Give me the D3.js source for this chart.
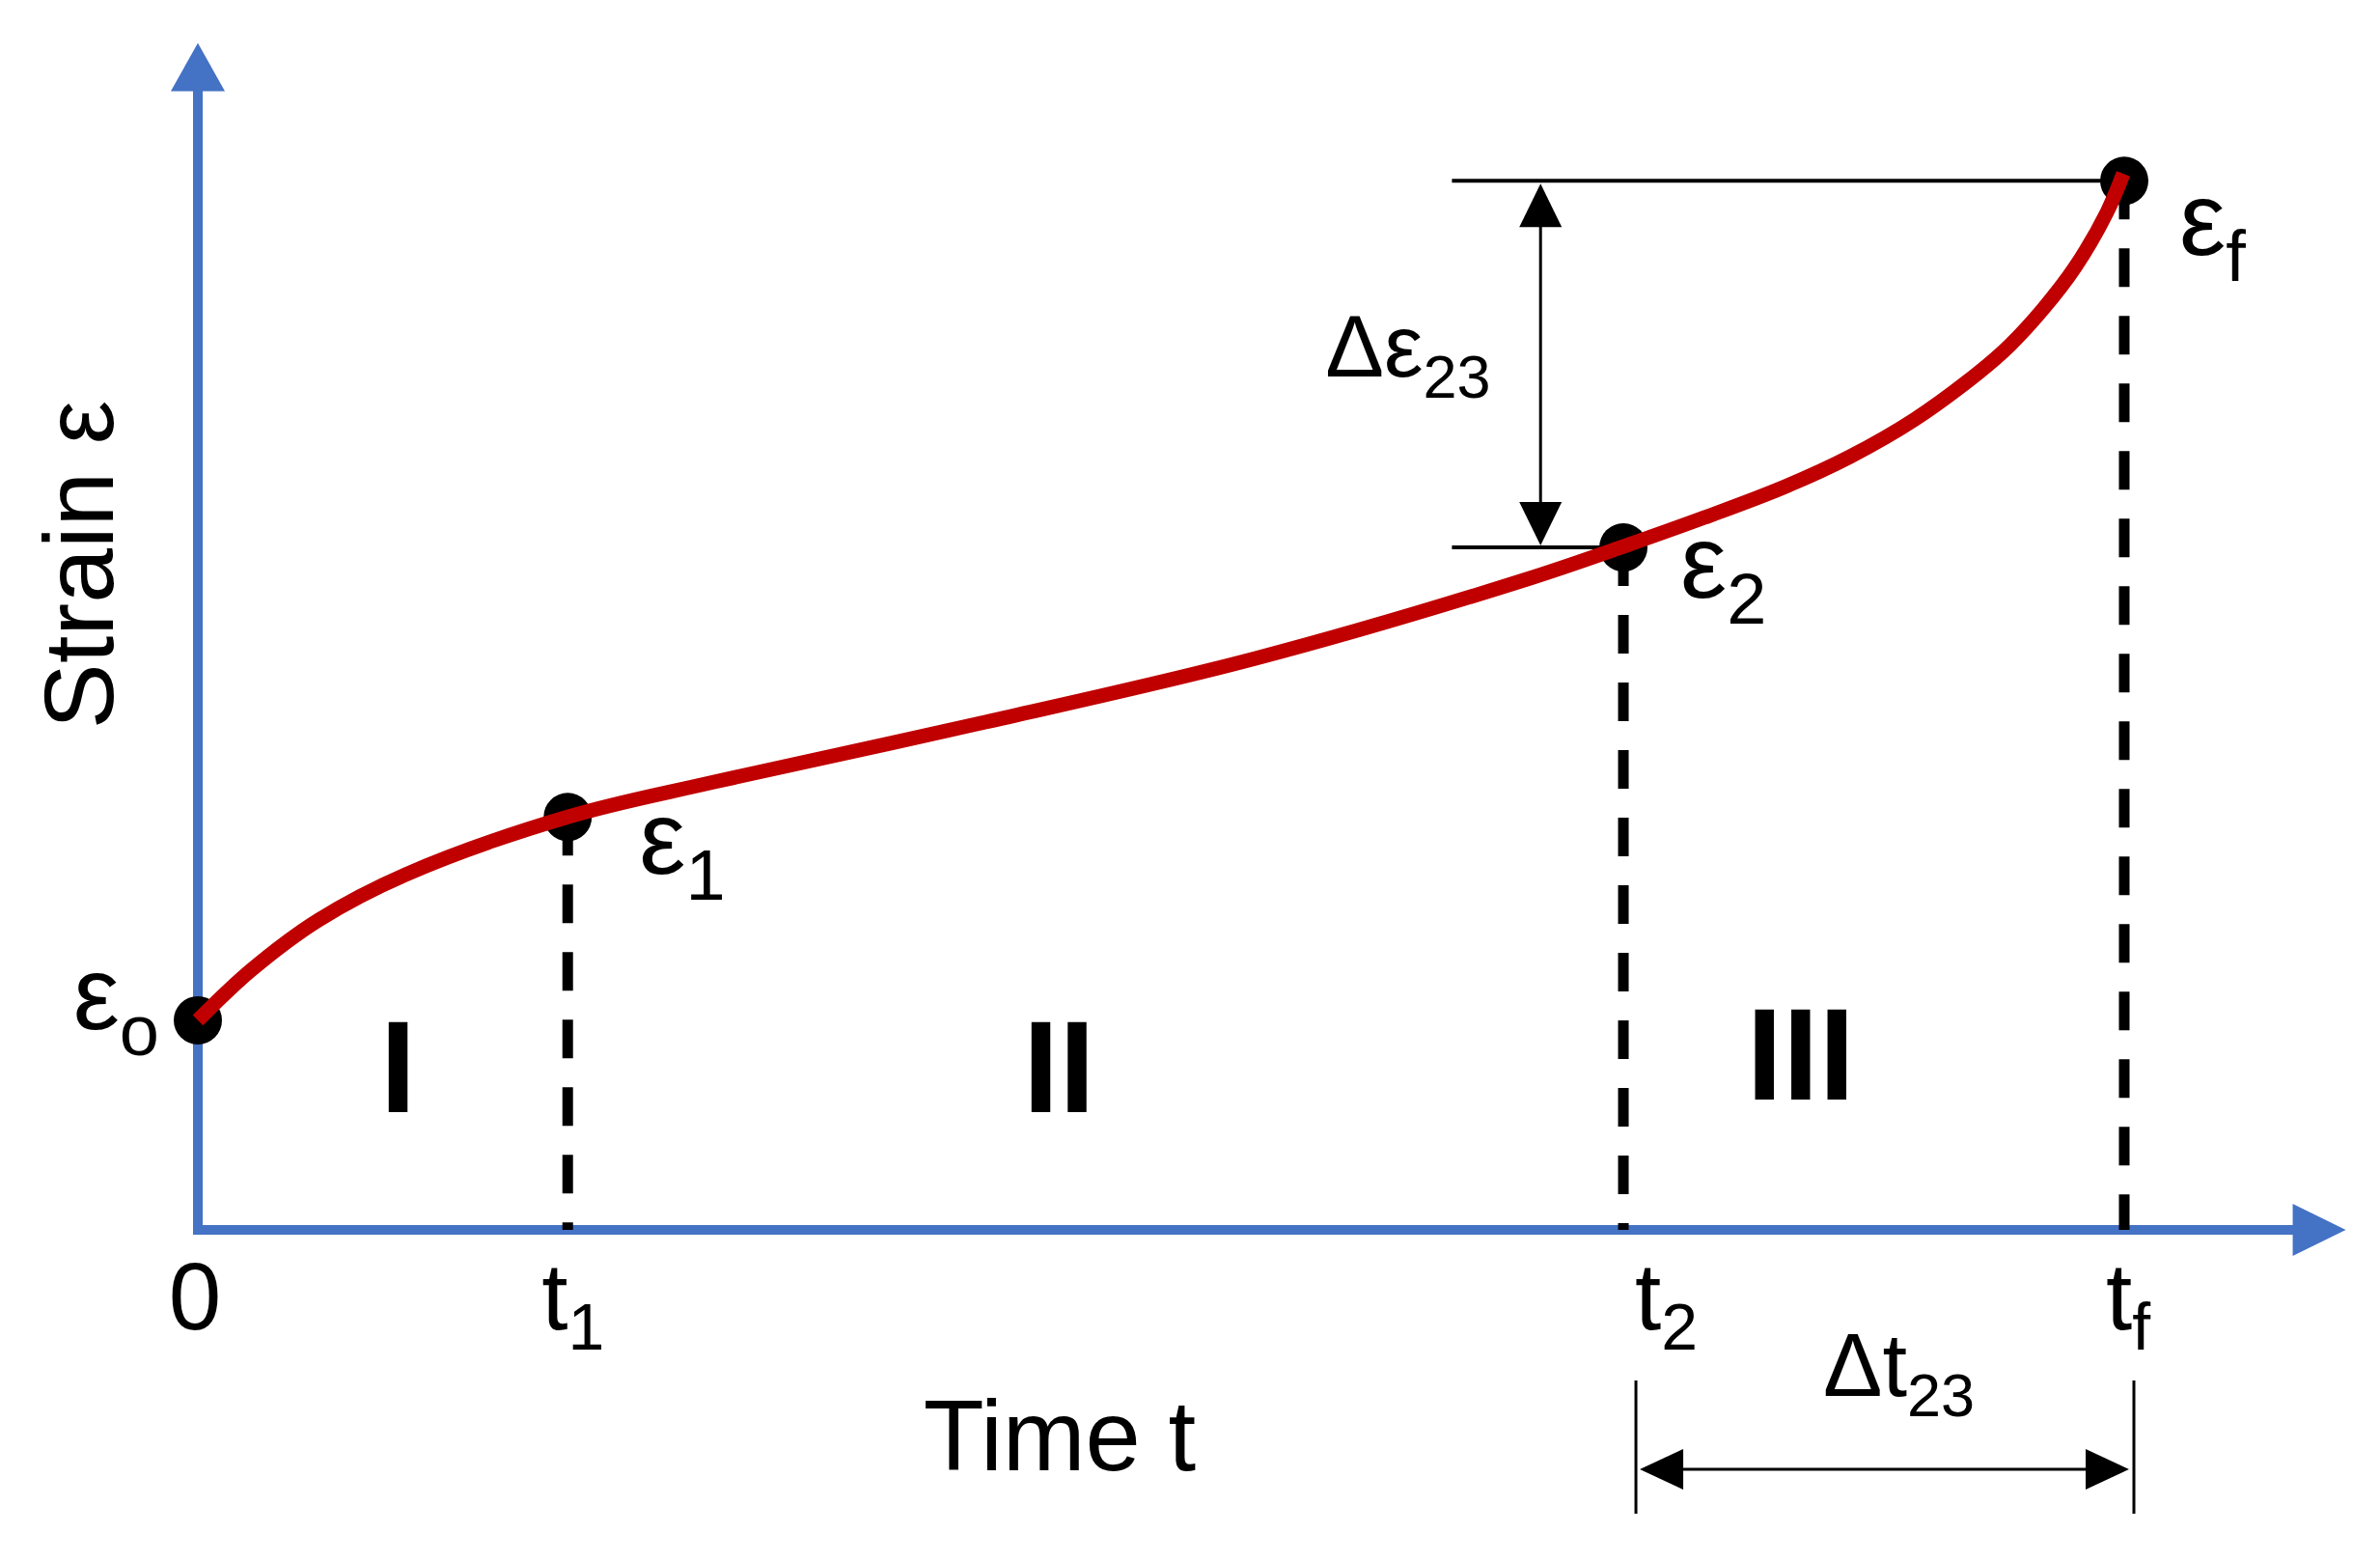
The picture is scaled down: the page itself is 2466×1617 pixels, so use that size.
<html>
<head>
<style>
body
{
  margin:0;
  background:#fff;
}
text
{
  font-family:"Liberation Sans", Arial, sans-serif;
  fill:#000;
}
</style>
<script src="https://cdnjs.cloudflare.com/ajax/libs/d3/7.8.5/d3.min.js"></script>
</head>
<body>
<script>
// creep curve (arbitrary units, tf = 100, strain at failure ~ 100)
var curveTime   = [0, 2.76, 6.26, 10.77, 19.24, 26.80, 40.88, 54.91, 68.99, 74.00, 78.21, 82.41, 85.77, 89.08, 92.43, 94.09, 95.79, 97.44, 99.10, 99.95];
var curveStrain = [19.9, 24.66, 29.42, 33.73, 39.23, 42.53, 48.21, 54.26, 61.78, 64.89, 67.64, 70.58, 73.42, 76.90, 81.39, 84.05, 87.44, 91.38, 96.61, 100.27];

// marked points: eps_o, eps_1, eps_2, eps_f
var pointSub    = ["o", "1", "2", "f"];
var pointTime   = [0, 19.2, 74.0, 100];
var pointStrain = [19.9, 39.2, 64.8, 99.6];

// labels under the time axis
var tickTime = [0, 19.2, 74.0, 100];
var tickMain = ["0", "t", "t", "t"];
var tickSub  = ["", "1", "2", "f"];

// creep stages
var stageNames = ["I", "II", "III"];
var stageTime  = [10.4, 44.7, 83.2];

var w = 2466;
var h = 1617;

var x = d3.scaleLinear().domain([0, 100]).range([205, 2201]);
var y = d3.scaleLinear().domain([0, 100]).range([1274, 183]);

var xEnd = 111.5;   // where the time arrow stops
var yEnd = 112.7;   // where the strain arrow stops

var blue = "#4472c4";
var red = "#c00000";

var svg = d3.select("body")
  .append("svg")
  .attr("width", w)
  .attr("height", h);

svg.append("rect").attr("width", w).attr("height", h).attr("fill", "#fff");

function tri(tipX, tipY, dx, dy, len, half)
{
  // filled arrow head pointing along (dx, dy)
  var bx = tipX - dx * len, by = tipY - dy * len;
  var px = -dy * half, py = dx * half;
  return "M" + tipX + "," + tipY + "L" + (bx + px) + "," + (by + py) + "L" + (bx - px) + "," + (by - py) + "Z";
}

function subText(px, py, main, sub, size, subSize, subDy, anchor, weight)
{
  var t = svg.append("text")
    .attr("x", px)
    .attr("y", py)
    .attr("text-anchor", anchor || "start")
    .style("font-size", size + "px")
    .style("font-weight", weight || "normal");
  t.append("tspan").text(main);
  if(sub)
  {
    t.append("tspan").attr("dy", subDy).style("font-size", subSize + "px").text(sub);
  }
  return t;
}

// axes
svg.append("line")
  .attr("x1", x(0)).attr("y1", y(0) + 5)
  .attr("x2", x(0)).attr("y2", y(yEnd) + 48)
  .attr("stroke", blue).attr("stroke-width", 10);
svg.append("path")
  .attr("d", tri(x(0), y(yEnd), 0, -1, 50, 28))
  .attr("fill", blue);

svg.append("line")
  .attr("x1", x(0) - 5).attr("y1", y(0))
  .attr("x2", x(xEnd) - 50).attr("y2", y(0))
  .attr("stroke", blue).attr("stroke-width", 10);
svg.append("path")
  .attr("d", tri(x(xEnd), y(0), 1, 0, 55, 27))
  .attr("fill", blue);

// dashed drop lines from eps_1, eps_2, eps_f
for (var i = 1; i < pointTime.length; i++)
{
  svg.append("line")
    .attr("x1", x(pointTime[i])).attr("y1", y(pointStrain[i]))
    .attr("x2", x(pointTime[i])).attr("y2", y(0))
    .attr("stroke", "#000")
    .attr("stroke-width", 11)
    .attr("stroke-dasharray", "40 30");
}

// delta strain dimension
var t2 = pointTime[2], tf = pointTime[3];
var e2 = pointStrain[2], ef = pointStrain[3];
var dimLeft = 65.1;
var dimX = x(69.7);

svg.append("line")
  .attr("x1", x(dimLeft)).attr("y1", y(ef))
  .attr("x2", x(tf)).attr("y2", y(ef))
  .attr("stroke", "#000").attr("stroke-width", 4);
svg.append("line")
  .attr("x1", x(dimLeft)).attr("y1", y(e2))
  .attr("x2", x(t2)).attr("y2", y(e2))
  .attr("stroke", "#000").attr("stroke-width", 4);
svg.append("line")
  .attr("x1", dimX).attr("y1", y(ef) + 30)
  .attr("x2", dimX).attr("y2", y(e2) - 30)
  .attr("stroke", "#000").attr("stroke-width", 3);
svg.append("path").attr("d", tri(dimX, y(ef) + 3, 0, -1, 45, 22)).attr("fill", "#000");
svg.append("path").attr("d", tri(dimX, y(e2) - 2, 0, 1, 45, 22)).attr("fill", "#000");

// delta time dimension
var dl = x(t2) + 13, dr = x(tf) + 10;
var dimY = y(0) + 248;
svg.append("line").attr("x1", dl).attr("y1", y(0) + 156).attr("x2", dl).attr("y2", y(0) + 294)
  .attr("stroke", "#000").attr("stroke-width", 3);
svg.append("line").attr("x1", dr).attr("y1", y(0) + 156).attr("x2", dr).attr("y2", y(0) + 294)
  .attr("stroke", "#000").attr("stroke-width", 3);
svg.append("line").attr("x1", dl + 30).attr("y1", dimY).attr("x2", dr - 30).attr("y2", dimY)
  .attr("stroke", "#000").attr("stroke-width", 3);
svg.append("path").attr("d", tri(dl + 4, dimY, -1, 0, 45, 21)).attr("fill", "#000");
svg.append("path").attr("d", tri(dr - 5, dimY, 1, 0, 45, 21)).attr("fill", "#000");

// points, then the curve on top
svg.selectAll("circle.pt")
  .data(pointTime)
  .enter()
  .append("circle")
  .attr("class", "pt")
  .attr("cx", function(d){ return x(d); })
  .attr("cy", function(d, i){ return y(pointStrain[i]); })
  .attr("r", 25)
  .attr("fill", "#000");

var line = d3.line()
  .x(function(d){ return x(d); })
  .y(function(d, i){ return y(curveStrain[i]); })
  .curve(d3.curveCatmullRom.alpha(0.5));

svg.append("path")
  .attr("d", line(curveTime))
  .attr("fill", "none")
  .attr("stroke", red)
  .attr("stroke-width", 15);

// point labels
var labelDx = [-40, 74, 59, 57];
var labelDy = [9, 59, 52, 77];
var labelAnchor = ["end", "start", "start", "start"];
for (var i = 0; i < pointSub.length; i++)
{
  subText(x(pointTime[i]) + labelDx[i], y(pointStrain[i]) + labelDy[i], "\u03b5", pointSub[i], 108, 74, 27, labelAnchor[i]);
}

// time labels
var tickDx = [-3, -27, 12, -19];
var tickAnchor = ["middle", "start", "start", "start"];
for (var i = 0; i < tickTime.length; i++)
{
  subText(x(tickTime[i]) + tickDx[i], y(0) + 103, tickMain[i], tickSub[i], 98, 68, 21, tickAnchor[i]);
}

// stage numerals
var stageLift = [122, 122, 135];
for (var i = 0; i < stageNames.length; i++)
{
  subText(x(stageTime[i]), y(0) - stageLift[i], stageNames[i], "", 135, 0, 0, "middle", "bold");
}

// dimension labels
subText(dimX - 223, (y(ef) + y(e2)) / 2 + 13, "\u0394\u03b5", "23", 91, 63, 22, "start");
subText(x(t2) + 207, y(0) + 172, "\u0394t", "23", 92, 63, 21, "start");

// axis titles
svg.append("text")
  .attr("x", 1098)
  .attr("y", y(0) + 249)
  .attr("text-anchor", "middle")
  .style("font-size", "103px")
  .text("Time t");

svg.append("text")
  .attr("transform", "translate(117,585) rotate(-90)")
  .attr("text-anchor", "middle")
  .style("font-size", "102px")
  .text("Strain \u03b5");
</script>
</body>
</html>
